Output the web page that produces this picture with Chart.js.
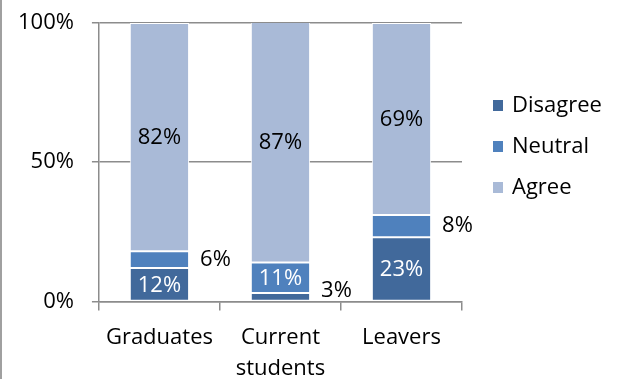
<!DOCTYPE html>
<html>
<head>
<meta charset="utf-8">
<script src="https://cdn.jsdelivr.net/npm/chart.js@4/dist/chart.umd.min.js"></script>
<style>
  html, body { margin: 0; padding: 0; background: #fff; overflow: hidden; width: 621px; height: 379px; }
  #wrap { position: absolute; left: 0; top: 0; width: 621px; height: 396px; }
  #frame { position: absolute; left: 0; top: 0; width: 2px; height: 379px; background: #a0a0a0; }
</style>
</head>
<body>
<div id="wrap"><canvas id="c" width="621" height="396"></canvas></div>
<div id="frame"></div>
<script>
const categories = ['Graduates', 'Current students', 'Leavers'];
const seriesNames = ['Disagree', 'Neutral', 'Agree'];
const disagree = [12, 3, 23];
const neutral = [6, 11, 8];
const agree = [82, 87, 69];
const yTicks = [0, 50, 100];

const colors = ['#41699B', '#4F81BD', '#A9BAD7'];
const labelColors = ['#ffffff', '#ffffff', '#000000'];
const FONT = "'Open Sans', sans-serif";

const labelPlugin = {
  id: 'segLabels',
  afterDatasetsDraw(chart) {
    const ctx = chart.ctx;
    const area = chart.chartArea;
    ctx.save();
    ctx.font = '22px ' + FONT;
    ctx.textAlign = 'center';
    ctx.textBaseline = 'middle';
    chart.data.datasets.forEach((ds, di) => {
      const meta = chart.getDatasetMeta(di);
      meta.data.forEach((bar, i) => {
        const v = ds.data[i];
        const top = Math.min(bar.y, bar.base);
        const bottom = Math.max(bar.y, bar.base);
        const h = bottom - top;
        let cy = (top + bottom) / 2;
        const text = v + '%';
        if (h < 25) {
          cy = Math.min(cy, area.bottom - 11);
          ctx.fillStyle = '#000';
          ctx.fillText(text, bar.x + 56, cy);
        } else {
          ctx.fillStyle = labelColors[di];
          ctx.fillText(text, bar.x, cy + 1);
        }
      });
    });
    ctx.restore();
  }
};

const legendPlugin = {
  id: 'sideLegend',
  afterDraw(chart) {
    const ctx = chart.ctx;
    const area = chart.chartArea;
    ctx.save();
    ctx.font = '22px ' + FONT;
    ctx.textAlign = 'left';
    ctx.textBaseline = 'middle';
    chart.data.datasets.forEach((ds, di) => {
      const y = area.top + 82 + di * 41;
      const x = area.right + 31;
      ctx.fillStyle = ds.backgroundColor;
      ctx.fillRect(x, y - 5, 10, 11);
      ctx.fillStyle = '#000';
      ctx.fillText(ds.label, x + 19, y + 1);
    });
    ctx.restore();
  }
};

const seriesValues = [disagree, neutral, agree];
const datasets = seriesNames.map((name, i) => ({
  label: name,
  data: seriesValues[i],
  backgroundColor: colors[i],
  borderColor: '#ffffff',
  borderWidth: 1,
  borderSkipped: false,
  barPercentage: 0.49,
  categoryPercentage: 1.0
}));

new Chart(document.getElementById('c'), {
  type: 'bar',
  data: {
    labels: categories.map(c => c.includes(' ') ? c.split(' ') : c),
    datasets: datasets
  },
  options: {
    responsive: false,
    animation: false,
    devicePixelRatio: 1,
    layout: { padding: { left: 0, right: 159, top: 23, bottom: 0 } },
    plugins: { legend: { display: false }, tooltip: { enabled: false } },
    scales: {
      x: {
        stacked: true,
        offset: true,
        grid: { offset: true, drawOnChartArea: false, drawTicks: true, tickLength: 9, color: '#8c8c8c', lineWidth: 1.5 },
        border: { display: true, color: '#8c8c8c', width: 1.5 },
        ticks: { color: '#000', font: { family: FONT, size: 22, lineHeight: 1.4 }, padding: 12, maxRotation: 0, autoSkip: false }
      },
      y: {
        stacked: true,
        min: 0,
        max: 100,
        afterBuildTicks: (scale) => { scale.ticks = yTicks.map(v => ({ value: v })); },
        grid: { color: '#8c8c8c', lineWidth: 1.5, tickLength: 7 },
        border: { display: true, color: '#8c8c8c', width: 1.5 },
        ticks: { color: '#000', font: { family: FONT, size: 22, lineHeight: 0.4 }, padding: 18, callback: v => v + '%' }
      }
    }
  },
  plugins: [labelPlugin, legendPlugin]
});
</script>
</body>
</html>
